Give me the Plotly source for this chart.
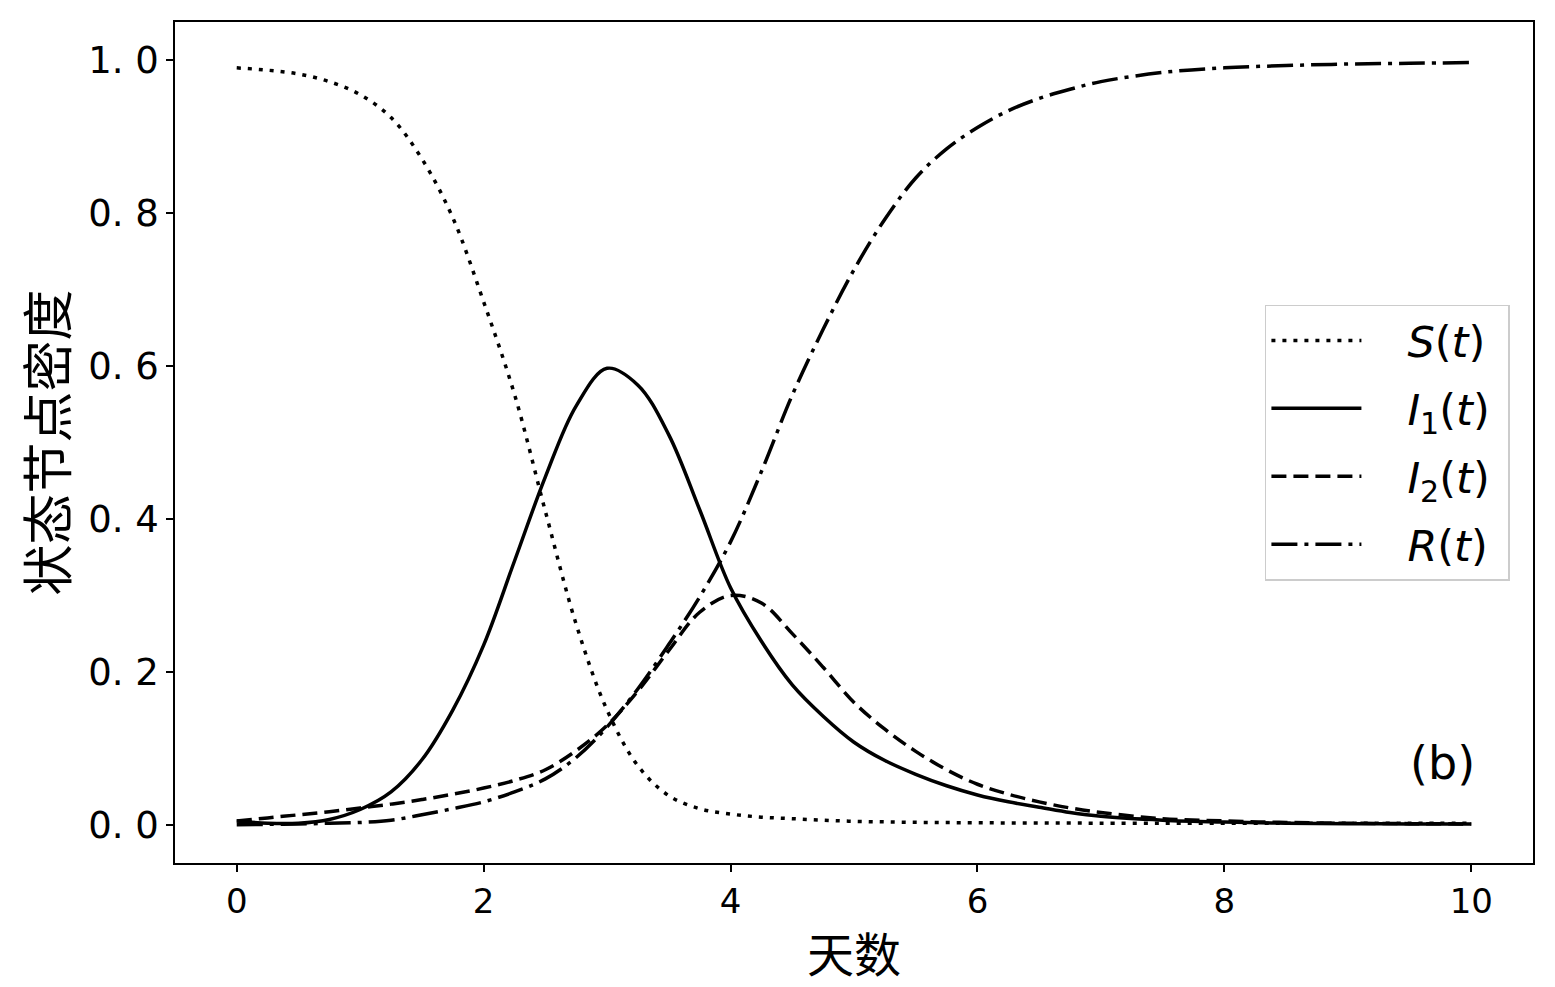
import plotly.graph_objects as go

# time (days)
t = [0, 0.25, 0.5, 0.75, 1.0, 1.25, 1.5, 1.75, 2.0, 2.25, 2.5, 2.75, 3.0, 3.25,
     3.5, 3.75, 4.0, 4.25, 4.5, 4.75, 5.0, 5.25, 5.5, 5.75, 6.0, 6.25, 6.5, 6.75,
     7.0, 7.5, 8.0, 8.5, 9.0, 9.5, 10.0]

S = [0.990, 0.987, 0.982, 0.972, 0.955, 0.925, 0.871, 0.794, 0.684, 0.563, 0.410,
     0.262, 0.150, 0.077, 0.038, 0.021, 0.014, 0.010, 0.008, 0.006, 0.0045, 0.0038,
     0.0032, 0.0029, 0.0026, 0.0024, 0.0023, 0.0022, 0.0021, 0.0020, 0.0020, 0.0020,
     0.0020, 0.0020, 0.0020]

I1 = [0.005, 0.002, 0.002, 0.007, 0.020, 0.043, 0.085, 0.150, 0.235, 0.345, 0.455,
      0.548, 0.597, 0.575, 0.510, 0.412, 0.310, 0.240, 0.183, 0.142, 0.108, 0.084,
      0.066, 0.051, 0.039, 0.030, 0.023, 0.016, 0.011, 0.006, 0.0035, 0.002, 0.0015,
      0.001, 0.001]

I2 = [0.005, 0.009, 0.013, 0.017, 0.022, 0.027, 0.033, 0.040, 0.048, 0.058, 0.072,
      0.097, 0.130, 0.175, 0.228, 0.278, 0.300, 0.290, 0.250, 0.206, 0.160, 0.125,
      0.096, 0.072, 0.053, 0.040, 0.030, 0.022, 0.016, 0.008, 0.005, 0.003, 0.002,
      0.0015, 0.001]

R = [0.000, 0.0005, 0.001, 0.002, 0.003, 0.006, 0.013, 0.021, 0.030, 0.043, 0.060,
     0.088, 0.128, 0.178, 0.236, 0.298, 0.370, 0.462, 0.562, 0.648, 0.726, 0.792,
     0.846, 0.884, 0.912, 0.934, 0.950, 0.962, 0.972, 0.984, 0.990, 0.993, 0.995,
     0.996, 0.997]

series_names = ["<i>S</i>(<i>t</i>)", "<i>I</i><sub>1</sub>(<i>t</i>)",
                "<i>I</i><sub>2</sub>(<i>t</i>)", "<i>R</i>(<i>t</i>)"]
x_ticks = [0, 2, 4, 6, 8, 10]
y_ticks = [0.0, 0.2, 0.4, 0.6, 0.8, 1.0]
y_tick_labels = ["0. 0", "0. 2", "0. 4", "0. 6", "0. 8", "1. 0"]
x_title = "天数"
y_title = "状态节点密度"
panel_label = "(b)"

LW = 3.5
dashes = ["4px,7px", "solid", "15px,7px", "26px,7px,4px,7px"]
data = [S, I1, I2, R]

fig = go.Figure()
for name, y, d in zip(series_names, data, dashes):
    fig.add_trace(go.Scatter(
        x=t, y=y, mode="lines", name="\u00a0\u00a0\u00a0" + name + "\u00a0",
        legendgroup=name,
        line=dict(color="black", width=LW, dash=d, shape="spline", smoothing=1.0),
    ))

fig.update_layout(
    width=1547, height=979,
    margin=dict(l=167, r=22, t=12, b=124),
    plot_bgcolor="white", paper_bgcolor="white",
    showlegend=True,
    legend=dict(
        x=0.983, xanchor="right", y=0.5, yanchor="middle",
        bgcolor="rgba(255,255,255,0.8)", bordercolor="#cccccc", borderwidth=1.5,
        font=dict(family="DejaVu Sans", size=43, color="black"),
        tracegroupgap=9, itemwidth=90,
    ),
    annotations=[dict(
        x=9.77, y=0.081, xref="x", yref="y", text=panel_label, showarrow=False,
        font=dict(family="DejaVu Sans", size=46, color="black"),
    )],
)

fig.update_xaxes(
    range=[-0.5, 10.5], tickvals=x_ticks, ticks="outside", ticklen=7, tickwidth=1.5,
    tickcolor="black", showline=True, linecolor="black", linewidth=1.5, mirror=True,
    showgrid=False, zeroline=False,
    tickfont=dict(family="DejaVu Sans", size=34, color="black"),
    title=dict(text=x_title, font=dict(family="Noto Sans CJK SC", size=47, color="black"),
               standoff=20),
)
fig.update_yaxes(
    range=[-0.05, 1.05], tickvals=y_ticks, ticktext=y_tick_labels, ticks="outside",
    ticklen=7, tickwidth=1.5, tickcolor="black", showline=True, linecolor="black",
    linewidth=1.5, mirror=True, showgrid=False, zeroline=False,
    tickfont=dict(family="DejaVu Sans", size=37, color="black"),
    title=dict(text=y_title, font=dict(family="Noto Sans CJK SC", size=51, color="black"),
               standoff=10),
)

fig.write_html("out.html")
